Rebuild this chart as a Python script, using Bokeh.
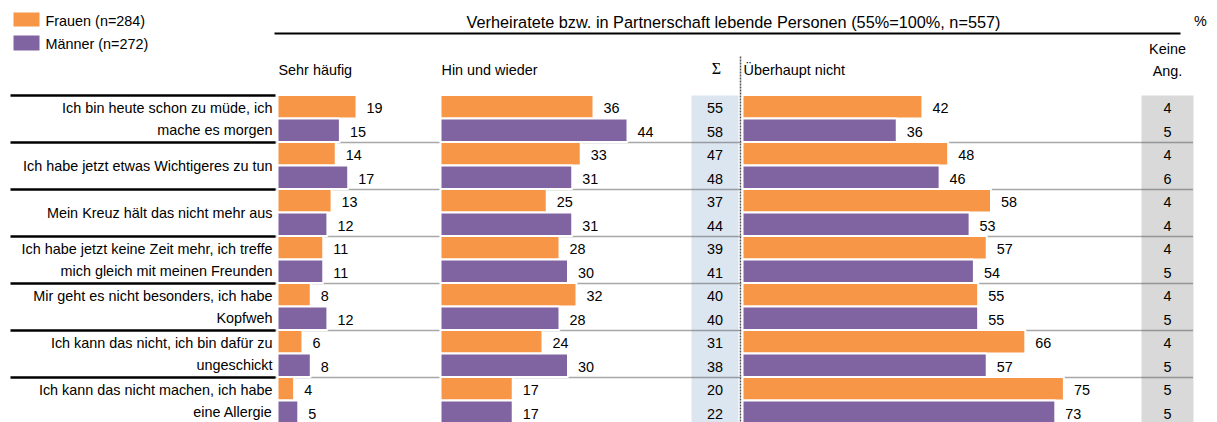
from bokeh.plotting import figure
from bokeh.models import ColumnDataSource, Range1d
from bokeh.core.properties import value
from bokeh.embed import file_html
from bokeh.resources import INLINE

# ---------------- data ----------------
categories = [
    ["Ich bin heute schon zu müde, ich", "mache es morgen"],
    ["Ich habe jetzt etwas Wichtigeres zu tun"],
    ["Mein Kreuz hält das nicht mehr aus"],
    ["Ich habe jetzt keine Zeit mehr, ich treffe", "mich gleich mit meinen Freunden"],
    ["Mir geht es nicht besonders, ich habe", "Kopfweh"],
    ["Ich kann das nicht, ich bin dafür zu", "ungeschickt"],
    ["Ich kann das nicht machen, ich habe", "eine Allergie"],
]
sehr_haeufig_f = [19, 14, 13, 11, 8, 6, 4]
sehr_haeufig_m = [15, 17, 12, 11, 12, 8, 5]
hin_und_wieder_f = [36, 33, 25, 28, 32, 24, 17]
hin_und_wieder_m = [44, 31, 31, 30, 28, 30, 17]
summe_f = [55, 47, 37, 39, 40, 31, 20]
summe_m = [58, 48, 44, 41, 40, 38, 22]
ueberhaupt_nicht_f = [42, 48, 58, 57, 55, 66, 75]
ueberhaupt_nicht_m = [36, 46, 53, 54, 55, 57, 73]
keine_ang_f = [4, 4, 4, 4, 4, 4, 5]
keine_ang_m = [5, 6, 4, 5, 5, 5, 5]
column_headers = ["Sehr häufig", "Hin und wieder", "Σ", "Überhaupt nicht"]
keine_header = ["Keine", "Ang."]
legend_labels = ["Frauen (n=284)", "Männer (n=272)"]
title_text = "Verheiratete bzw. in Partnerschaft lebende Personen (55%=100%, n=557)"
unit_text = "%"

# ---------------- style ----------------
ORANGE = "#f79646"
PURPLE = "#8064a2"
SIGMA_BG = "#dce6f1"
KA_BG = "#d9d9d9"
FONT = value("Liberation Sans")
FS = "14.4px"

W, H = 1217, 422
p = figure(width=W, height=H, x_range=Range1d(0, W), y_range=Range1d(H, 0),
           output_backend="svg", toolbar_location=None, min_border=0,
           x_axis_location=None, y_axis_location=None)
p.grid.visible = False
p.outline_line_color = None
p.background_fill_color = "white"
p.border_fill_color = "white"

n = len(categories)
ROW0, ROWH = 95, 47
tops = [ROW0 + ROWH * i for i in range(n)]
BOTTOM = H + 20

# background columns
p.quad(left=[691], right=[738], top=[95], bottom=[BOTTOM], fill_color=SIGMA_BG, line_color=None)
p.quad(left=[1141], right=[1193], top=[95], bottom=[BOTTOM], fill_color=KA_BG, line_color=None)

# dotted row separators
sep_y = tops[1:]
p.segment(x0=[275] * len(sep_y), x1=[1193] * len(sep_y), y0=sep_y, y1=sep_y,
          line_color="#505050", line_width=1.5, line_dash="1 1")

# vertical dotted line
p.segment(x0=[740], x1=[740], y0=[56], y1=[BOTTOM], line_color="#505050",
          line_width=1.5, line_dash="2 1")

# black lines in label column
p.segment(x0=[10] * n, x1=[275] * n, y0=tops, y1=tops, line_color="black", line_width=2.5)

# title underline
p.segment(x0=[274], x1=[1180], y0=[33], y1=[33], line_color="black", line_width=2)

# bars
panels = [
    (277, 4.16, sehr_haeufig_f, sehr_haeufig_m),
    (440, 4.25, hin_und_wieder_f, hin_und_wieder_m),
    (742, 4.285, ueberhaupt_nicht_f, ueberhaupt_nicht_m),
]
for x0, sc, vf, vm in panels:
    for vals, color, yt, yb in ((vf, ORANGE, -0.5, 23.0), (vm, PURPLE, 23.0, 46.5)):
        src = ColumnDataSource(dict(
            left=[x0] * n,
            right=[x0 + v * sc for v in vals],
            top=[t + yt for t in tops],
            bottom=[t + yb for t in tops],
            lx=[x0 + v * sc + 10 for v in vals],
            ly=[t + (yt + yb) / 2 + 1.5 for t in tops],
            txt=[str(v) for v in vals],
        ))
        p.quad(left="left", right="right", top="top", bottom="bottom", source=src,
               fill_color=color, line_color="white", line_width=2)
        p.text(x="lx", y="ly", text="txt", source=src, text_font=FONT, text_font_size=FS,
               text_align="left", text_baseline="middle", text_color="black")

# sum and keine Angabe columns
for xc, vf, vm in ((714.5, summe_f, summe_m), (1167, keine_ang_f, keine_ang_m)):
    ys = [t + 11.25 + 1.5 for t in tops] + [t + 34.75 + 1.5 for t in tops]
    src = ColumnDataSource(dict(x=[xc] * (2 * n), y=ys, txt=[str(v) for v in vf + vm]))
    p.text(x="x", y="y", text="txt", source=src, text_font=FONT, text_font_size=FS,
           text_align="center", text_baseline="middle", text_color="black")

# category labels
lx, ly, lt = [], [], []
for t, lines in zip(tops, categories):
    c = t + 23
    offs = [0] if len(lines) == 1 else [-11, 11]
    for o, s in zip(offs, lines):
        lx.append(272)
        ly.append(c + o)
        lt.append(s)
p.text(x=lx, y=ly, text=lt, text_font=FONT, text_font_size=FS, text_align="right",
       text_baseline="middle", text_color="black")

# column headers
p.text(x=[278, 441, 743], y=[69, 69, 69], text=[column_headers[0], column_headers[1], column_headers[3]],
       text_font=FONT, text_font_size=FS, text_align="left", text_baseline="middle", text_color="black")
p.text(x=[716], y=[68], text=[column_headers[2]], text_font=value("Liberation Serif"),
       text_font_size="16px", text_align="center", text_baseline="middle", text_color="black")
p.text(x=[1167, 1167], y=[48, 70], text=keine_header, text_font=FONT, text_font_size=FS,
       text_align="center", text_baseline="middle", text_color="black")

# title and unit
p.text(x=[733], y=[21], text=[title_text], text_font=FONT, text_font_size="16.3px",
       text_align="center", text_baseline="middle", text_color="black")
p.text(x=[1200], y=[20], text=[unit_text], text_font=FONT, text_font_size=FS,
       text_align="center", text_baseline="middle", text_color="black")

# legend
p.quad(left=[13, 13], right=[39, 39], top=[12, 35], bottom=[26, 50],
       fill_color=[ORANGE, PURPLE], line_color=None)
p.text(x=[45, 45], y=[20, 43], text=legend_labels, text_font=FONT, text_font_size=FS,
       text_align="left", text_baseline="middle", text_color="black")

open("out.html", "w").write(file_html(p, INLINE))
